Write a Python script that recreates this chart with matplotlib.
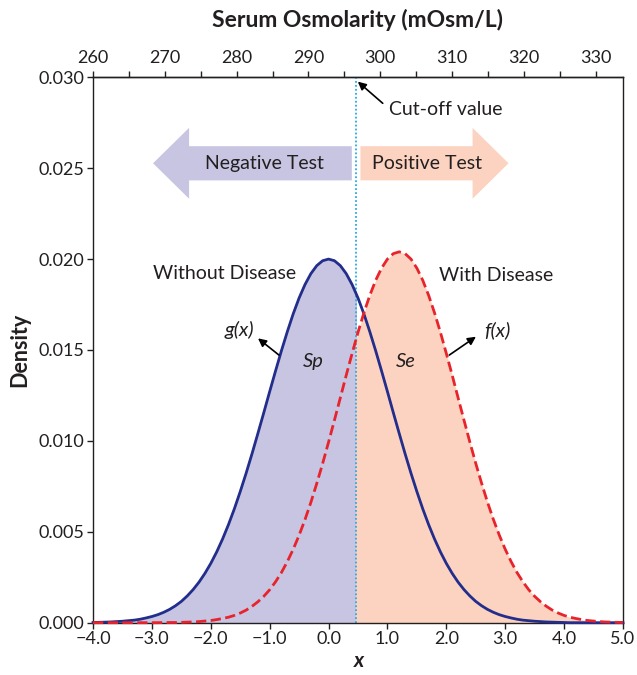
import numpy as np
import matplotlib
matplotlib.use("Agg")
import matplotlib.pyplot as plt
from matplotlib.patches import Polygon, Rectangle

plt.rcParams['font.family'] = ['Lato', 'DejaVu Sans']

# ---------------- data ----------------
x_vals = np.round(np.arange(-40, 51) / 10, 1)   # x from -4.0 to 5.0, step 0.1

# g(x): without disease (solid blue)
g_vals = [0.00001, 0.00002, 0.00003, 0.00004, 0.00006, 0.00008, 0.00011, 0.00014, 0.00019, 0.00026,
          0.00034, 0.00044, 0.00057, 0.00073, 0.00093, 0.00117, 0.00147, 0.00182, 0.00223, 0.00271,
          0.00326, 0.00389, 0.00460, 0.00539, 0.00626, 0.00721, 0.00822, 0.00929, 0.01041, 0.01155,
          0.01271, 0.01385, 0.01496, 0.01601, 0.01699, 0.01786, 0.01860, 0.01920, 0.01964, 0.01991,
          0.02000,
          0.01991, 0.01964, 0.01920, 0.01860, 0.01786, 0.01699, 0.01601, 0.01496, 0.01385, 0.01271,
          0.01155, 0.01041, 0.00929, 0.00822, 0.00721, 0.00626, 0.00539, 0.00460, 0.00389, 0.00326,
          0.00271, 0.00223, 0.00182, 0.00147, 0.00117, 0.00093, 0.00073, 0.00057, 0.00044, 0.00034,
          0.00026, 0.00019, 0.00014, 0.00011, 0.00008, 0.00006, 0.00004, 0.00003, 0.00002, 0.00001,
          0, 0, 0, 0, 0, 0, 0, 0, 0, 0]

# f(x): with disease (dashed red)
f_vals = [0, 0, 0, 0, 0, 0, 0, 0, 0, 0,
          0, 0, 0.00001, 0.00001, 0.00001, 0.00002, 0.00003, 0.00004, 0.00006, 0.00009,
          0.00012, 0.00017, 0.00023, 0.00030, 0.00040, 0.00053, 0.00069, 0.00090, 0.00115, 0.00145,
          0.00181, 0.00225, 0.00276, 0.00336, 0.00404, 0.00481, 0.00567, 0.00662, 0.00766, 0.00876,
          0.00993, 0.01114, 0.01237, 0.01361, 0.01481, 0.01597, 0.01704, 0.01800, 0.01883, 0.01950,
          0.02000, 0.02030, 0.02040, 0.02030, 0.02000, 0.01950, 0.01883, 0.01800, 0.01704, 0.01597,
          0.01481, 0.01361, 0.01237, 0.01114, 0.00993, 0.00876, 0.00766, 0.00662, 0.00567, 0.00481,
          0.00404, 0.00336, 0.00276, 0.00225, 0.00181, 0.00145, 0.00115, 0.00090, 0.00069, 0.00053,
          0.00040, 0.00030, 0.00023, 0.00017, 0.00012, 0.00009, 0.00006, 0.00004, 0.00003, 0.00002,
          0.00001]

cutoff = 0.46
x_ticks = [-4.0, -3.0, -2.0, -1.0, 0.0, 1.0, 2.0, 3.0, 4.0, 5.0]
y_ticks = [0.000, 0.005, 0.010, 0.015, 0.020, 0.025, 0.030]
osm_ticks = [260, 265, 270, 275, 280, 285, 290, 295, 300, 305, 310, 315, 320, 325, 330]
osm_at_zero = 292.8
osm_per_unit = 8.2

# ---------------- style ----------------
TXT = '#231f20'
BLUE = '#222d8c'
RED = '#e8232b'
LAV = '#c7c5e1'
SAL = '#fcd3c0'
CUT = '#29abe2'
FS = 14

fig = plt.figure(figsize=(6.37, 6.75), dpi=100)
ax = fig.add_axes([0.146, 0.0775, 0.832, 0.808])

x = np.asarray(x_vals)
g = np.asarray(g_vals)
f = np.asarray(f_vals)

lav_fill = ax.fill_between(x, 0, g, color=LAV, lw=0, zorder=1)
lav_fill.set_clip_path(Rectangle((-4, 0), cutoff + 4, 0.03, transform=ax.transData))
sal_fill = ax.fill_between(x, 0, f, color=SAL, lw=0, zorder=1)
sal_fill.set_clip_path(Rectangle((cutoff, 0), 5 - cutoff, 0.03, transform=ax.transData))

ax.axvline(cutoff, color=CUT, lw=1.3, ls=(0, (1, 1.2)), zorder=2)
ax.plot(x, g, color=BLUE, lw=2.0, zorder=4, clip_on=False)
ax.plot(x, f, color=RED, lw=2.0, ls='--', zorder=5, clip_on=False)

# block arrows
yc, hh, bh = 0.02527, 0.00195, 0.00094
neg = Polygon([(-2.98, yc), (-2.368, yc + hh), (-2.368, yc + bh), (0.395, yc + bh),
               (0.395, yc - bh), (-2.368, yc - bh), (-2.368, yc - hh)],
              closed=True, facecolor=LAV, edgecolor='none', zorder=3)
pos = Polygon([(0.542, yc + bh), (2.446, yc + bh), (2.446, yc + hh), (3.056, yc),
               (2.446, yc - hh), (2.446, yc - bh), (0.542, yc - bh)],
              closed=True, facecolor=SAL, edgecolor='none', zorder=3)
ax.add_patch(neg)
ax.add_patch(pos)
ax.text(-1.085, yc, 'Negative Test', ha='center', va='center', fontsize=FS, color=TXT, zorder=6)
ax.text(1.68, yc, 'Positive Test', ha='center', va='center', fontsize=FS, color=TXT, zorder=6)

# labels
ax.text(-1.77, 0.01923, 'Without Disease', ha='center', va='center', fontsize=FS, color=TXT)
ax.text(2.85, 0.01907, 'With Disease', ha='center', va='center', fontsize=FS, color=TXT)
ax.text(-1.52, 0.0161, 'g(x)', ha='center', va='center', fontsize=FS + 0.5, style='italic', color=TXT)
ax.text(2.87, 0.0161, 'f(x)', ha='center', va='center', fontsize=FS + 0.5, style='italic', color=TXT)
ax.text(-0.254, 0.01435, 'Sp', ha='center', va='center', fontsize=FS + 0.5, style='italic', color=TXT, zorder=6)
ax.text(1.317, 0.01435, 'Se', ha='center', va='center', fontsize=FS + 0.5, style='italic', color=TXT, zorder=6)
ax.text(1.02, 0.02824, 'Cut-off value', ha='left', va='center', fontsize=FS, color=TXT)

aprops = dict(arrowstyle='-|>', color='black', lw=1.2, mutation_scale=12, shrinkA=0, shrinkB=0)
ax.annotate('', xy=(-1.198, 0.01564), xytext=(-0.842, 0.01472), arrowprops=aprops, zorder=6)
ax.annotate('', xy=(2.503, 0.01573), xytext=(2.05, 0.01472), arrowprops=aprops, zorder=6)
ax.annotate('', xy=(0.497, 0.02976), xytext=(0.92, 0.02857), arrowprops=aprops, zorder=6)

# axes
ax.set_xlim(-4, 5)
ax.set_ylim(0, 0.030)
ax.set_xticks(x_ticks)
ax.set_xticklabels([f"{v:.1f}".replace('-', '\u2212') for v in x_ticks])
ax.set_yticks(y_ticks)
ax.set_yticklabels([f"{v:.3f}" for v in y_ticks])
ax.tick_params(axis='both', direction='out', length=4, width=1, labelsize=13, colors=TXT, pad=2)
ax.tick_params(axis='x', which='both', top=False)
for s in ax.spines.values():
    s.set_linewidth(1.0)
    s.set_color(TXT)
ax.set_xlabel('x', fontsize=15, fontweight='bold', style='italic', color=TXT)
ax.xaxis.set_label_coords(0.502, -0.052)
ax.set_ylabel('Density', fontsize=15.5, fontweight='bold', color=TXT)
ax.yaxis.set_label_coords(-0.118, 0.5)

sec = ax.secondary_xaxis('top', functions=(lambda v: osm_at_zero + osm_per_unit * v,
                                           lambda o: (o - osm_at_zero) / osm_per_unit))
sec.set_xticks(osm_ticks)
sec.set_xticklabels([str(t) if t % 10 == 0 else '' for t in osm_ticks])
sec.tick_params(direction='out', length=4, width=1, labelsize=13, colors=TXT, pad=4)
sec.spines['top'].set_linewidth(1.0)
sec.spines['top'].set_color(TXT)
sec.set_xlabel('Serum Osmolarity (mOsm/L)', fontsize=16.5, fontweight='bold', color=TXT, labelpad=17)

fig.savefig('out.png', dpi=100)
